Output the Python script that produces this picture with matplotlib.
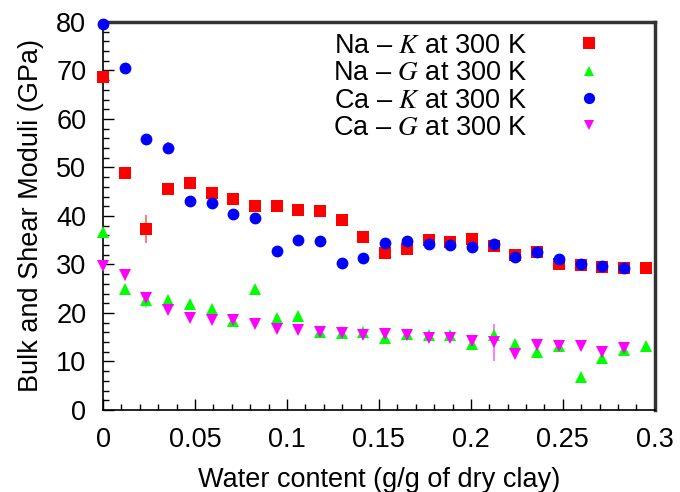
import numpy as np
import matplotlib.pyplot as plt
from matplotlib.ticker import MultipleLocator
from matplotlib.lines import Line2D

plt.rcParams['font.family'] = ['Liberation Sans', 'DejaVu Sans']
plt.rcParams['mathtext.fontset'] = 'stix'

# water content (g/g of dry clay)
water = [0.0, 0.0118, 0.0236, 0.0354, 0.0472, 0.059, 0.0708, 0.0826, 0.0944,
         0.1062, 0.118, 0.1298, 0.1416, 0.1534, 0.1652, 0.177, 0.1888, 0.2006,
         0.2124, 0.2242, 0.236, 0.2478, 0.2596, 0.2714, 0.2832, 0.295]

na_K = [68.7, 48.9, 37.3, 45.6, 46.8, 44.7, 43.5, 42.1, 42.1, 41.2, 41.0, 39.2,
        35.7, 32.4, 33.2, 35.1, 34.6, 35.2, 33.8, 32.0, 32.6, 30.1, 29.9, 29.5,
        29.3, 29.3]
na_K_err = [0.6, 0.4, 2.9, 1.2, 0.5, 0.4, 0.4, 0.4, 0.5, 0.4, 0.4, 0.5, 0.4,
            0.4, 0.4, 0.4, 0.4, 0.4, 0.4, 0.4, 0.4, 0.4, 0.4, 0.4, 0.4, 0.4]

na_G = [36.7, 24.9, 22.7, 22.6, 21.8, 20.8, 18.3, 24.9, 18.9, 19.4, 16.1, 15.8,
        16.1, 14.8, 15.7, 15.5, 15.5, 13.7, 15.5, 13.6, 12.0, 13.1, 6.9, 10.7,
        12.4, 13.2]
na_G_err = [0.8, 0.6, 1.7, 0.8, 0.8, 0.5, 0.5, 0.6, 0.5, 0.5, 0.5, 0.5, 0.5,
            0.5, 0.5, 0.5, 0.5, 0.5, 0.6, 0.5, 0.5, 0.5, 0.6, 0.5, 0.5, 0.5]

ca_K = [79.6, 70.5, 55.9, 54.0, 43.1, 42.7, 40.4, 39.6, 32.8, 35.1, 34.8, 30.3,
        31.4, 34.5, 34.8, 34.2, 34.0, 33.6, 34.2, 31.5, 32.6, 31.1, 30.1, 29.6,
        29.3]
ca_K_err = [0.4, 0.4, 0.6, 1.2, 0.4, 0.4, 0.4, 0.4, 0.6, 0.4, 0.4, 1.0, 0.6,
            0.4, 0.4, 0.4, 0.4, 0.4, 0.4, 0.4, 0.4, 0.4, 0.4, 0.4, 0.4]

ca_G = [29.7, 27.8, 23.0, 20.6, 19.0, 18.6, 18.5, 17.7, 16.8, 16.4, 16.1, 15.8,
        15.5, 15.6, 15.4, 14.9, 14.8, 14.2, 14.0, 11.5, 13.3, 13.1, 13.2, 11.9,
        12.7]
ca_G_err = [1.1, 0.8, 0.8, 0.7, 0.6, 0.6, 0.5, 0.5, 0.6, 0.5, 0.5, 0.5, 0.5,
            0.5, 0.5, 0.5, 0.5, 0.5, 3.8, 0.6, 0.7, 0.5, 0.5, 0.6, 0.7]

FS = 19.5

fig = plt.figure(figsize=(6.8, 4.92), dpi=100)
ax = fig.add_axes([0.1515, 0.1667, 0.8115, 0.7886])

series = [
    (na_K, na_K_err, 's', '#ff0000', 8.5, r'Na – $K$ at 300 K'),
    (na_G, na_G_err, '^', '#00ff00', 8, r'Na – $G$ at 300 K'),
    (ca_K, ca_K_err, 'o', '#0000ff', 8.5, r'Ca – $K$ at 300 K'),
    (ca_G, ca_G_err, 'v', '#ff00ff', 8, r'Ca – $G$ at 300 K'),
]
handles = []
for vals, err, mk, col, ms, lab in series:
    x = water[:len(vals)]
    eb = ax.errorbar(x, vals, yerr=err, fmt=mk, color=col, ms=ms, mew=0,
                     ecolor=col, elinewidth=1.2, capsize=3.5, capthick=1.2,
                     clip_on=False, zorder=3)
    for c in eb[1] + eb[2]:
        c.set_alpha(0.6)
        c.set_clip_on(False)
    handles.append(Line2D([], [], ls='none', marker=mk, color=col,
                          ms=ms * 0.95, mew=0, label=lab))

ax.set_xlim(0, 0.3)
ax.set_ylim(0, 80)
ax.set_xticks([0, 0.05, 0.1, 0.15, 0.2, 0.25, 0.3])
ax.set_xticklabels(['0', '0.05', '0.1', '0.15', '0.2', '0.25', '0.3'])
ax.xaxis.set_minor_locator(MultipleLocator(0.01))
ax.yaxis.set_major_locator(MultipleLocator(10))
ax.yaxis.set_minor_locator(MultipleLocator(2))

ax.tick_params(which='both', direction='in', top=False, right=False,
               labelsize=FS, color='black')
ax.tick_params(axis='y', which='major', length=8, width=1, pad=12)
ax.tick_params(axis='x', which='major', length=8, width=1, pad=12)
ax.tick_params(which='minor', length=4, width=1)

for s in ['left', 'bottom']:
    ax.spines[s].set_linewidth(1.2)
    ax.spines[s].set_color('black')
for s in ['top', 'right']:
    ax.spines[s].set_linewidth(2.5)
    ax.spines[s].set_color('#333333')

ax.set_xlabel('Water content (g/g of dry clay)', fontsize=FS, labelpad=10)
ax.set_ylabel('Bulk and Shear Moduli (GPa)', fontsize=FS, labelpad=9)

ax.legend(handles=handles, loc='upper left', bbox_to_anchor=(0.4167, 0.972),
          frameon=False, markerfirst=False, fontsize=FS, handletextpad=1.75,
          labelspacing=0.05, handlelength=1.0, borderpad=0, borderaxespad=0)

plt.savefig('out.png', dpi=100)
plt.close()
